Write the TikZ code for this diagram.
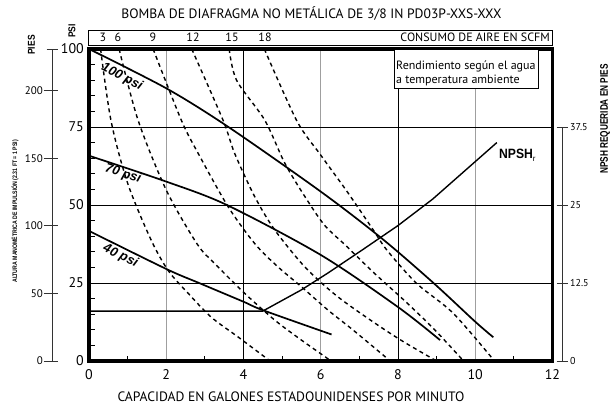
\documentclass[tikz,border=0pt]{standalone}
\usepackage{fontspec}
\setmainfont{PT Sans}
\newfontfamily\hv{Liberation Sans}
\begin{document}
\begin{tikzpicture}[x=1pt,y=1pt,
  gridgray/.style={gray!75, line width=1.4pt},
  gridblack/.style={black, line width=0.9pt},
  psicurve/.style={line width=1.7pt, line join=round},
  aircurve/.style={line width=1.4pt, dash pattern=on 4pt off 3.5pt},
  npshcurve/.style={line width=1.4pt, line join=round},
  axisline/.style={gray!40!black, line width=0.9pt},
  psilabel/.style={font=\hv\fontsize{13}{15}\selectfont\bfseries\itshape, inner sep=0pt},
  condbold/.style={font=\hv\bfseries, inner sep=0pt}]
\useasboundingbox (0,0) rectangle (610,406);
\fill[white] (0,0) rectangle (610,406);

% title
\node (title) at (311.5,392) {\fontsize{13.6}{15}\selectfont BOMBA DE DIAFRAGMA NO METÁLICA DE 3/8 IN PD03P-XXS-XXX};

% SCFM box
\draw[line width=0.9pt] (88,361) rectangle (552,376);
\foreach \sx/\sv [count=\i] in {103/3,118/6,153/9,193/12,232/15,265/18}
  \node[inner sep=0pt] (scfm\i) at (\sx,368.5) {\fontsize{12}{14}\selectfont \sv};
\node[anchor=east, inner sep=0pt] (scfmtitle) at (550,368.5) {\fontsize{12}{14}\selectfont CONSUMO DE AIRE EN SCFM};

% data area
\begin{scope}[shift={(89,45)}, x=38.62pt, y=3.12pt]
  \foreach \gx in {2,6,10} \draw[gridgray] (\gx,0) -- (\gx,100);
  \foreach \gx in {4,8} \draw[gridblack] (\gx,0) -- (\gx,100);
  \foreach \gy in {25,50,75} \draw[gridblack] (0,\gy) -- (12,\gy);
  % minor ticks
  \foreach \ty in {5,10,15,20,30,35,40,45,55,60,65,70,80,85,90,95}
    \draw[line width=0.9pt] (0,\ty) -- (0.16,\ty);
  \foreach \tx in {1,3,5,7,9,11}
    \draw[line width=0.9pt] (\tx,0) -- (\tx,1.7);

  % air consumption curves
  \draw[aircurve] plot[smooth] coordinates {(0.30,100) (0.57,77) (1.0,57) (1.6,39) (2.05,29) (2.56,21.8) (3.16,14.1) (3.86,7.7) (4.69,0)};
  \draw[aircurve] plot[smooth] coordinates {(0.78,100) (1.27,77.2) (2.0,54.8) (2.8,37.5) (3.25,31.3) (4.03,21.7) (4.81,13.1) (5.5,6.7) (6.27,0)};
  \draw[aircurve] plot[smooth] coordinates {(1.66,100) (2.39,77.2) (2.82,66.7) (3.6,49.5) (4.3,37.5) (4.89,30.2) (5.5,23.8) (6.19,16.3) (6.84,9.9) (7.8,0)};
  \draw[aircurve] plot[smooth] coordinates {(2.66,100) (3.47,77.2) (3.77,66.6) (4.29,52.7) (4.81,42) (5.6,30) (6.4,21) (7.3,13) (8.1,6.5) (9.0,0)};
  \draw[aircurve] plot[smooth] coordinates {(3.63,100) (3.82,90) (4.55,77.2) (5.07,63.4) (5.59,52.7) (6.1,43.5) (6.65,37) (7.4,28) (8.2,19) (8.95,10) (9.7,0)};
  \draw[aircurve] plot[smooth] coordinates {(4.54,100) (5.38,77) (6.0,66) (6.7,54) (7.36,42) (7.71,35.6) (8.48,24.9) (9.43,15.3) (10.5,0)};

  % pressure curves
  \draw[psicurve] plot[smooth] coordinates {(0,100) (2,87.4) (3.61,75) (6,54.3) (7.58,39.3) (8.92,25) (10,12.6) (10.47,7.6)};
  \draw[psicurve] plot[smooth] coordinates {(0,65.8) (2,57.5) (3.57,50) (6,34) (8,17.3) (9.09,6.7)};
  \draw[psicurve] plot[smooth] coordinates {(0,41.7) (2,29.5) (2.85,25) (4,19) (4.5,16.3) (6.28,8.5)};

  % NPSH required
  \draw[npshcurve] (0,16) -- (4.5,16) -- (5.5,22.8) -- (6.2,28.3) -- (7.1,35.8) -- (8.0,43.4) -- (8.9,51.9) -- (10.56,70);

  % frame
  \draw[line width=3.5pt] (0,0) rectangle (12,100);
\end{scope}

% note box
\draw[line width=0.9pt, fill=white] (394,356.5) rectangle (538.3,317.7);
\node[anchor=west, inner sep=0pt] (note1) at (396,339.3) {\fontsize{12}{14}\selectfont Rendimiento según el agua};
\node[anchor=west, inner sep=0pt] (note2) at (396,326) {\fontsize{12}{14}\selectfont a temperatura ambiente};

% curve labels
\node[psilabel, rotate=-27] (l100) at (122,329) {100 psi};
\node[psilabel, rotate=-18] (l70) at (123,232) {70 psi};
\node[psilabel, rotate=-26] (l40) at (120.5,150) {40 psi};
\node[condbold, anchor=west] (lnpsh) at (499,251) {\fontsize{13.5}{15}\selectfont\scalebox{0.9}[1]{NPSH}\raisebox{-3pt}{\fontsize{8}{9}\selectfont\mdseries r}};

% x axis numbers
\foreach \xv in {0,2,4,6,8,10,12}
  \node[inner sep=0pt] (x\xv) at ({89+38.62*\xv},31.5) {\fontsize{14}{16}\selectfont \xv};
\node (xtitle) at (291,9) {\fontsize{13.6}{16}\selectfont CAPACIDAD EN GALONES ESTADOUNIDENSES POR MINUTO};

% inner left psi labels
\foreach \yv/\yy in {0/45,25/123,50/201,75/279,100/357}
  \node[anchor=east, inner sep=0pt] (psi\yv) at (84,\yy) {\fontsize{14}{16}\selectfont \yv};
\node[condbold, rotate=90] (psititle) at (72,375) {\fontsize{10}{12}\selectfont\scalebox{0.85}[1]{PSI}};

% outer left feet axis
\draw[axisline] (52,45) -- (52,357);
\draw[axisline] (46.5,357) -- (57.5,357);
\foreach \fv/\fy in {0/45,50/112.5,100/180.1,150/247.6,200/315.1}{
  \draw[axisline] (43.5,\fy) -- (57.5,\fy);
  \node[anchor=east, inner sep=0pt] (ft\fv) at (43,\fy) {\fontsize{11}{13}\selectfont \fv};
}
\node[condbold, rotate=90] (piestitle) at (31.5,361) {\fontsize{10}{12}\selectfont\scalebox{0.85}[1]{PIES}};
\node[condbold, rotate=90] (alttitle) at (15,194.5) {\fontsize{6.5}{8}\selectfont\scalebox{0.8}[1]{ALTURA MANOMÉTRICA DE IMPULSIÓN (2.31 FT = 1 PSI)}};

% right NPSH axis
\draw[axisline] (562,45) -- (562,279);
\foreach \nv/\ny in {0/45,12.5/123,25/201,37.5/279}{
  \draw[axisline] (556.5,\ny) -- (568,\ny);
  \node[anchor=west, inner sep=0pt] (np\ny) at (570,\ny) {\fontsize{10}{12}\selectfont \nv};
}
\node[condbold, rotate=90] (npshtitle) at (605,287) {\fontsize{11}{13}\selectfont\scalebox{0.75}[1]{NPSH REQUERIDA EN PIES}};
\end{tikzpicture}
\end{document}
